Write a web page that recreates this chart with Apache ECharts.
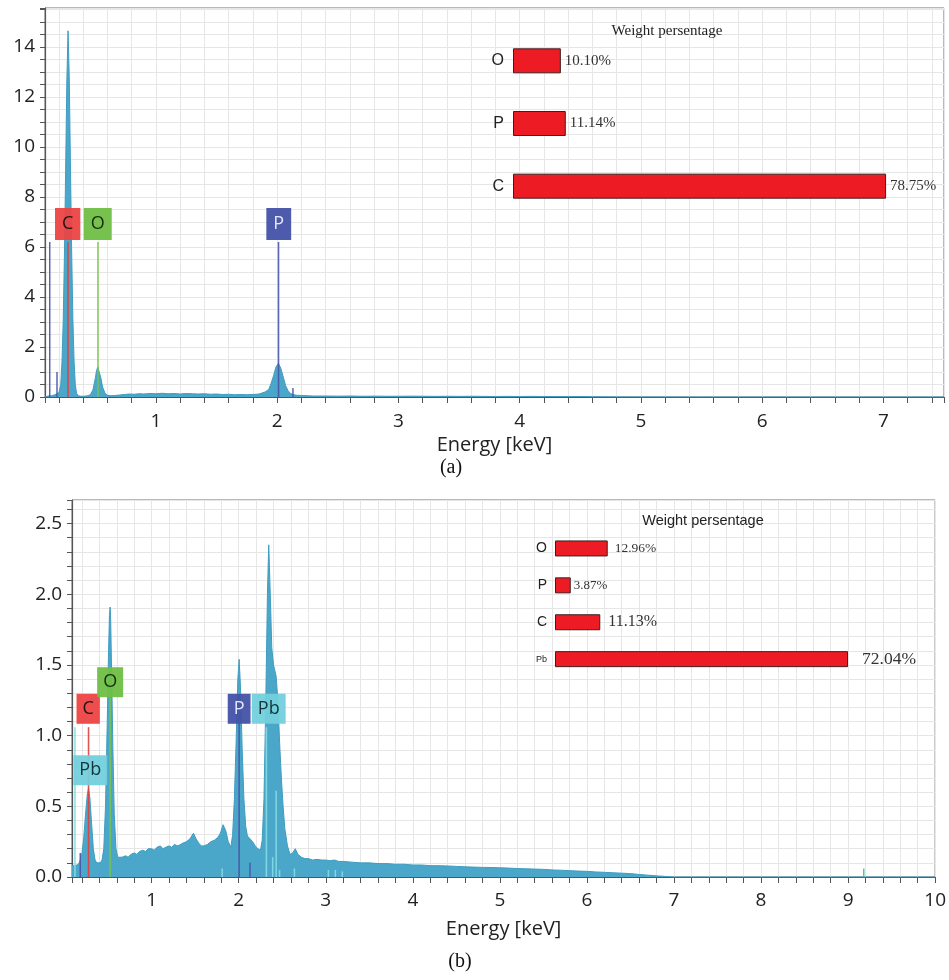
<!DOCTYPE html>
<html>
<head>
<meta charset="utf-8">
<script src="https://cdn.jsdelivr.net/npm/echarts@6/dist/echarts.min.js"></script>
<style>
  html, body { margin: 0; padding: 0; background: #fff; }
  #chart { width: 949px; height: 980px; }
</style>
</head>
<body>
<div id="chart"></div>
<script>
// ---------- spectrum (a): [energy keV, counts] ----------
const specA = [
  [0.085,0.00],[0.10,0.02],[0.12,0.05],[0.14,0.05],[0.16,0.08],[0.18,0.12],[0.20,0.18],
  [0.215,0.5],[0.225,1.4],[0.235,3.0],[0.245,5.6],[0.255,9.0],[0.265,12.6],[0.275,14.65],
  [0.285,12.8],[0.295,9.2],[0.305,5.8],[0.315,3.1],[0.325,1.4],[0.335,0.5],[0.345,0.15],
  [0.36,0.05],[0.38,0.03],[0.40,0.03],[0.42,0.04],[0.44,0.05],[0.46,0.10],[0.48,0.28],
  [0.50,0.75],[0.51,1.05],[0.52,1.2],[0.53,1.12],[0.545,0.78],[0.56,0.40],[0.58,0.15],
  [0.60,0.07],[0.63,0.05],[0.66,0.06],[0.70,0.08],[0.74,0.10],[0.78,0.12],[0.82,0.11],
  [0.86,0.13],[0.90,0.12],[0.95,0.14],[1.00,0.13],[1.05,0.15],[1.10,0.13],[1.15,0.14],
  [1.20,0.12],[1.25,0.14],[1.30,0.13],[1.35,0.12],[1.40,0.13],[1.45,0.11],[1.50,0.12],
  [1.55,0.10],[1.60,0.11],[1.65,0.09],[1.70,0.10],[1.75,0.09],[1.80,0.10],[1.85,0.12],
  [1.90,0.20],[1.93,0.30],[1.95,0.55],[1.97,0.85],[1.99,1.2],[2.01,1.35],[2.03,1.15],
  [2.05,0.80],[2.07,0.45],[2.09,0.25],[2.11,0.14],[2.13,0.10],[2.16,0.07],[2.20,0.06],
  [2.25,0.05],[2.30,0.04],[2.40,0.04],[2.50,0.035],[2.60,0.04],[2.70,0.03],[2.80,0.035],
  [2.90,0.03],[3.00,0.03],[3.10,0.035],[3.20,0.03],[3.30,0.025],[3.40,0.03],[3.50,0.025],
  [3.60,0.03],[3.70,0.025],[3.80,0.02],[3.90,0.025],[4.00,0.02],[4.10,0.025],[4.20,0.02],
  [4.30,0.02],[4.40,0.015],[4.50,0.02],[4.60,0.01],[4.80,0.005],[5.00,0.003],[5.50,0],
  [6.00,0],[6.50,0],[7.00,0],[7.50,0]
];

// ---------- spectrum (b): [energy keV, counts] ----------
const specB = [
  [0.085,0.08],[0.10,0.07],[0.12,0.08],[0.14,0.07],[0.16,0.09],[0.18,0.12],[0.20,0.17],
  [0.22,0.28],[0.24,0.44],[0.26,0.58],[0.275,0.63],[0.29,0.56],[0.31,0.38],[0.33,0.20],
  [0.35,0.12],[0.37,0.10],[0.39,0.11],[0.41,0.10],[0.43,0.12],[0.45,0.20],[0.47,0.50],
  [0.49,1.10],[0.505,1.60],[0.515,1.85],[0.523,1.91],[0.53,1.80],[0.54,1.45],[0.555,0.90],
  [0.57,0.45],[0.59,0.20],[0.61,0.14],[0.63,0.13],[0.66,0.14],[0.70,0.15],[0.73,0.14],
  [0.76,0.16],[0.80,0.17],[0.83,0.16],[0.86,0.18],[0.90,0.19],[0.93,0.18],[0.96,0.20],
  [1.00,0.20],[1.03,0.19],[1.06,0.21],[1.10,0.22],[1.13,0.20],[1.16,0.21],[1.20,0.22],
  [1.23,0.21],[1.26,0.23],[1.30,0.22],[1.33,0.23],[1.36,0.24],[1.40,0.25],[1.44,0.27],
  [1.48,0.31],[1.51,0.27],[1.54,0.24],[1.57,0.22],[1.60,0.22],[1.64,0.23],[1.68,0.25],
  [1.72,0.26],[1.76,0.28],[1.79,0.31],[1.82,0.37],[1.85,0.33],[1.88,0.25],[1.91,0.21],
  [1.93,0.30],[1.95,0.55],[1.97,0.95],[1.99,1.40],[2.005,1.54],[2.02,1.35],[2.04,0.90],
  [2.06,0.55],[2.08,0.36],[2.10,0.29],[2.13,0.27],[2.16,0.25],[2.19,0.22],[2.22,0.20],
  [2.25,0.19],[2.27,0.26],[2.29,0.55],[2.31,1.20],[2.33,2.00],[2.345,2.35],[2.36,2.05],
  [2.38,1.62],[2.40,1.50],[2.43,1.42],[2.45,1.25],[2.47,0.95],[2.49,0.70],[2.51,0.50],
  [2.53,0.34],[2.56,0.22],[2.59,0.16],[2.62,0.17],[2.65,0.20],[2.68,0.16],[2.72,0.14],
  [2.76,0.13],[2.80,0.13],[2.85,0.12],[2.90,0.125],[2.95,0.12],[3.00,0.12],[3.05,0.115],
  [3.10,0.12],[3.15,0.11],[3.20,0.11],[3.30,0.105],[3.40,0.10],[3.50,0.10],[3.60,0.095],
  [3.70,0.095],[3.80,0.09],[3.90,0.09],[4.00,0.085],[4.10,0.085],[4.20,0.08],[4.30,0.08],
  [4.40,0.078],[4.50,0.075],[4.60,0.072],[4.70,0.07],[4.80,0.068],[4.90,0.067],[5.00,0.065],
  [5.10,0.063],[5.20,0.06],[5.30,0.058],[5.40,0.056],[5.50,0.054],[5.60,0.05],[5.70,0.048],
  [5.80,0.045],[5.90,0.042],[6.00,0.04],[6.10,0.036],[6.20,0.033],[6.30,0.03],[6.40,0.027],
  [6.50,0.024],[6.60,0.018],[6.70,0.013],[6.80,0.008],[6.90,0.004],[7.00,0],[10.0,0]
];

// ---------- tick labels ----------
const xTickLabelsA = [1, 2, 3, 4, 5, 6, 7];
const yTickLabelsA = [0, 2, 4, 6, 8, 10, 12, 14];
const xTickLabelsB = [1, 2, 3, 4, 5, 6, 7, 8, 9, 10];
const yTickLabelsB = [0, 0.5, 1, 1.5, 2, 2.5];

// ---------- element tags (a) ----------
const tagNamesA   = ['C', 'O', 'P'];
const tagKeVA     = [0.275, 0.522, 2.011];
const tagLineTopA = [6.2, 6.2, 6.2];
const tagBoxKeVA  = [0.272, 0.520, 2.013];
const tagLevelA   = [6.92, 6.92, 6.92];

// ---------- element tags (b) ----------
const tagNamesB   = ['C', 'O', 'P', 'Pb', 'Pb'];
const tagKeVB     = [0.275, 0.523, 2.005, 0.119, 2.318];
const tagLineTopB = [1.06, 1.27, 1.09, 1.06, 1.06];
const tagBoxKeVB  = [0.271, 0.523, 2.005, 0.295, 2.345];
const tagLevelB   = [1.19, 1.378, 1.19, 0.755, 1.19];

// ---------- untagged element lines ----------
const thinKeVA  = [0.124, 0.184, 2.13];
const thinTopA  = [6.2, 1.0, 0.36];
const thinElemA = ['x', 'x', 'x'];

const thinKeVB  = [0.18, 2.13, 2.43, 2.39, 1.81, 2.47, 2.64, 3.03, 3.11, 3.19, 9.18];
const thinTopB  = [0.17, 0.10, 0.61, 0.14, 0.06, 0.05, 0.06, 0.05, 0.05, 0.04, 0.06];
const thinElemB = ['x', 'x', 'Pb', 'Pb', 'Pb', 'Pb', 'Pb', 'Pb', 'Pb', 'Pb', 'g'];

// ---------- weight percentages ----------
const elemsA  = ['O', 'P', 'C'];
const weightA = [10.10, 11.14, 78.75];
const elemsB  = ['O', 'P', 'C', 'Pb'];
const weightB = [12.96, 3.87, 11.13, 72.04];

// ---------- styling ----------
const tagColors  = { C: '#ec4343', O: '#70bf45', P: '#4551a7', Pb: '#72d0dc' };
const tagText    = { C: '#1b1010', O: '#13250c', P: '#eef0ff', Pb: '#0f2c33' };
const lineColors = { C: '#e0403d', O: '#78c24c', P: '#4a55a9', Pb: '#86dce5', x: '#4753a8', g: '#45c28f' };
const SPEC_FILL = '#4aa7c9';
const SPEC_EDGE = '#3f9cc0';
const GRID_LINE = '#e6e6e6';
const AXIS_CLR = '#555';
const SANS = '"Open Sans", "Noto Sans", sans-serif';
const SERIF = '"Liberation Serif", "DejaVu Serif", serif';
const catFontB = [14, 14, 14, 9];
const valFontB = [13.5, 13, 16, 17.5];
const valGapB = [7, 3, 8, 14];

const near = (arr, v) => arr.some(t => Math.abs(t - v) < 1e-6);

function energyAxis(gridIndex, min, max, labels, nameGap, labelMargin) {
  return {
    gridIndex, type: 'value', min, max, minInterval: 0.2, maxInterval: 0.2,
    name: 'Energy [keV]', nameLocation: 'middle', nameGap,
    nameTextStyle: { fontFamily: SANS, fontSize: 20, color: '#222' },
    axisLine: { show: true, onZero: false, lineStyle: { color: AXIS_CLR, width: 1.2 } },
    axisTick: { show: true, length: 6, lineStyle: { color: AXIS_CLR } },
    axisLabel: {
      margin: labelMargin, fontFamily: SANS, fontSize: 19, color: '#222',
      showMinLabel: true, showMaxLabel: true,
      formatter: v => (near(labels, v) ? String(Math.round(v)) : '')
    },
    splitLine: { show: true, lineStyle: { color: GRID_LINE, width: 1 } }
  };
}

function countAxis(gridIndex, max, step, labels, digits) {
  return {
    gridIndex, type: 'value', min: 0, max, interval: step,
    axisLine: { show: true, lineStyle: { color: AXIS_CLR, width: 1.2 } },
    axisTick: { show: true, length: 5, lineStyle: { color: AXIS_CLR } },
    axisLabel: {
      margin: 10, fontFamily: SANS, fontSize: 19, color: '#222',
      formatter: v => (near(labels, v) ? v.toFixed(digits) : '')
    },
    splitLine: { show: true, lineStyle: { color: GRID_LINE, width: 1 } }
  };
}

function tagSeries(axisIdx, names, keV, tops, boxKeV, levels, pad) {
  return {
    type: 'custom', xAxisIndex: axisIdx, yAxisIndex: axisIdx, z: 5, clip: true,
    data: names.map((n, i) => [keV[i], tops[i], boxKeV[i], levels[i], i]),
    renderItem: (params, api) => {
      const i = api.value(4);
      const name = names[i];
      const p0 = api.coord([api.value(0), api.value(1)]);
      const p1 = api.coord([api.value(0), 0]);
      const c = api.coord([api.value(2), api.value(3)]);
      return {
        type: 'group',
        children: [
          { type: 'line', shape: { x1: p0[0], y1: p0[1], x2: p1[0], y2: p1[1] },
            style: { stroke: lineColors[name], lineWidth: 1.6, opacity: 0.9 } },
          { type: 'text', x: c[0], y: c[1],
            style: { text: name, align: 'center', verticalAlign: 'middle',
                     font: '18px ' + SANS, fill: tagText[name], lineHeight: 20,
                     backgroundColor: tagColors[name], opacity: 0.95,
                     padding: pad } }
        ]
      };
    }
  };
}

function thinSeries(axisIdx, keV, tops, elems) {
  return {
    type: 'custom', xAxisIndex: axisIdx, yAxisIndex: axisIdx, z: 4, clip: true,
    data: keV.map((k, i) => [k, tops[i], i]),
    renderItem: (params, api) => {
      const e = elems[api.value(2)];
      const p0 = api.coord([api.value(0), api.value(1)]);
      const p1 = api.coord([api.value(0), 0]);
      return { type: 'line', shape: { x1: p0[0], y1: p0[1], x2: p1[0], y2: p1[1] },
               style: { stroke: lineColors[e], lineWidth: 1.5, opacity: 0.9 } };
    }
  };
}

function spectrumSeries(axisIdx, data) {
  return {
    type: 'line', xAxisIndex: axisIdx, yAxisIndex: axisIdx, data, z: 2,
    showSymbol: false, symbol: 'none', smooth: false,
    lineStyle: { color: SPEC_EDGE, width: 1 },
    areaStyle: { color: SPEC_FILL, opacity: 1 },
    silent: true
  };
}

function weightBars(axisIdx, values, barWidth, fontSizes, gaps) {
  return {
    type: 'bar', xAxisIndex: axisIdx, yAxisIndex: axisIdx, barWidth, z: 6,
    itemStyle: { color: '#ed1c24', borderColor: '#3c1f1f', borderWidth: 1 },
    label: { show: true, position: 'right', fontFamily: SERIF, color: '#333',
             formatter: p => p.value.toFixed(2) + '%' },
    data: values.map((v, i) => ({
      value: v,
      label: { fontSize: fontSizes[i], distance: gaps[i] }
    }))
  };
}

const chart = echarts.init(document.getElementById('chart'), null, { renderer: 'canvas' });

chart.setOption({
  animation: false,
  backgroundColor: '#ffffff',
  grid: [
    { left: 45, top: 8, width: 899, height: 389, show: true, borderColor: '#707070', borderWidth: 1, backgroundColor: 'transparent' },
    { left: 513, top: 29.5, width: 379, height: 188 },
    { left: 72, top: 500, width: 865, height: 377, show: true, borderColor: '#707070', borderWidth: 1, backgroundColor: 'transparent' },
    { left: 555, top: 530, width: 325.4, height: 147.6 }
  ],
  xAxis: [
    energyAxis(0, 0.085, 7.5, xTickLabelsA, 38, 15),
    { gridIndex: 1, type: 'value', min: 0, max: 80, show: false },
    energyAxis(2, 0.085, 10, xTickLabelsB, 42, 14),
    { gridIndex: 3, type: 'value', min: 0, max: 80, show: false }
  ],
  yAxis: [
    countAxis(0, 15.56, 0.5, yTickLabelsA, 0),
    { gridIndex: 1, type: 'category', inverse: true, data: elemsA,
      axisLine: { show: false }, axisTick: { show: false }, splitLine: { show: false },
      axisLabel: { margin: 9, fontFamily: '"Liberation Sans", Arial, sans-serif', fontSize: 16, color: '#222' } },
    countAxis(2, 2.667, 0.1, yTickLabelsB, 1),
    { gridIndex: 3, type: 'category', inverse: true,
      data: elemsB.map((e, i) => ({ value: e, textStyle: { fontSize: catFontB[i] } })),
      axisLine: { show: false }, axisTick: { show: false }, splitLine: { show: false },
      axisLabel: { margin: 8, fontFamily: '"Liberation Sans", Arial, sans-serif', fontSize: 14, color: '#222' } }
  ],
  graphic: [
    { type: 'text', x: 667, y: 31, z: 10,
      style: { text: 'Weight persentage', align: 'center', verticalAlign: 'middle',
               font: '15px ' + SERIF, fill: '#222' } },
    { type: 'text', x: 703, y: 521, z: 10,
      style: { text: 'Weight persentage', align: 'center', verticalAlign: 'middle',
               font: '14.5px "Liberation Sans", Arial, sans-serif', fill: '#222' } },
    { type: 'text', x: 451, y: 468, z: 10,
      style: { text: '(a)', align: 'center', verticalAlign: 'middle',
               font: '20px ' + SERIF, fill: '#111' } },
    { type: 'text', x: 460, y: 962, z: 10,
      style: { text: '(b)', align: 'center', verticalAlign: 'middle',
               font: '20px ' + SERIF, fill: '#111' } }
  ],
  series: [
    spectrumSeries(0, specA),
    thinSeries(0, thinKeVA, thinTopA, thinElemA),
    tagSeries(0, tagNamesA, tagKeVA, tagLineTopA, tagBoxKeVA, tagLevelA, [6, 7]),
    weightBars(1, weightA, 25, [15, 15, 15], [4, 4, 4]),
    spectrumSeries(2, specB),
    thinSeries(2, thinKeVB, thinTopB, thinElemB),
    tagSeries(2, tagNamesB, tagKeVB, tagLineTopB, tagBoxKeVB, tagLevelB, [5, 6]),
    weightBars(3, weightB, 16, valFontB, valGapB)
  ]
});
</script>
</body>
</html>
